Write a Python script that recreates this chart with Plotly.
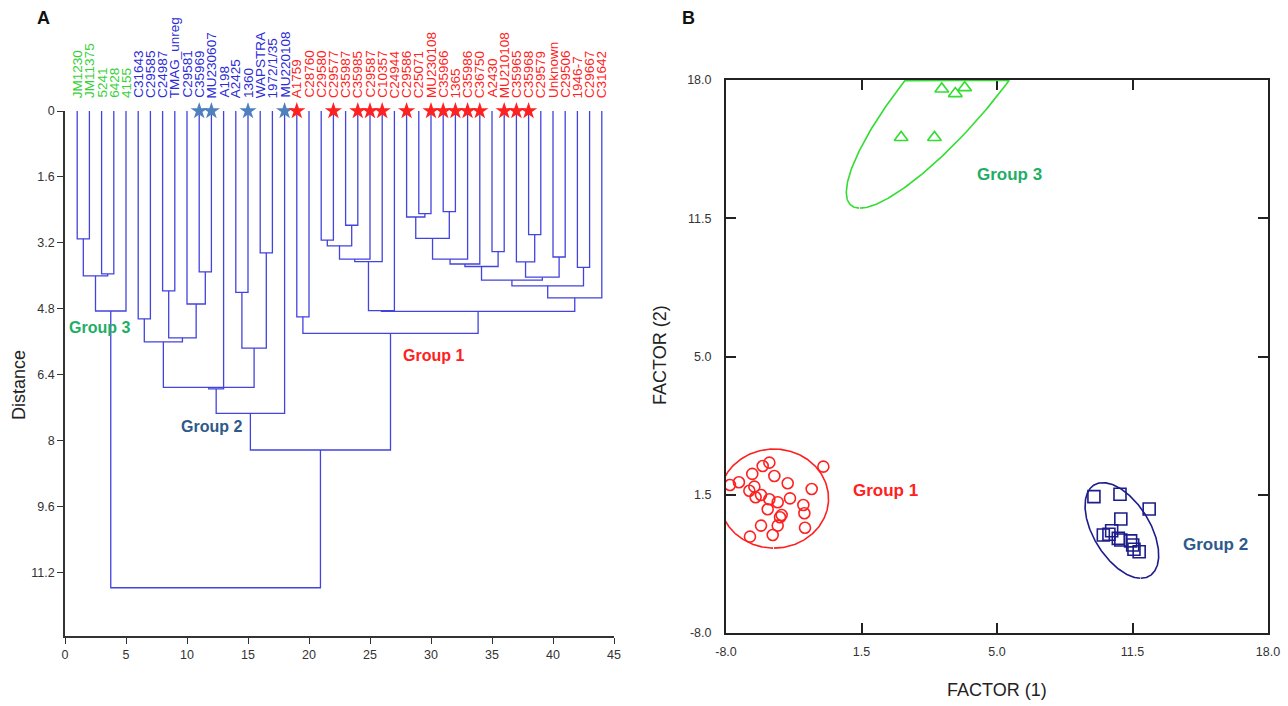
import numpy as np
import plotly.graph_objects as go

# ---------------- DATA ----------------
leaf_labels = ["JM1230", "JM11375", "5241", "6428", "4155",
               "C31643", "C29585", "C24987", "TMAG_unreg", "C29581", "C35969", "MU230607",
               "A198", "A2425", "1360", "WAPSTRA", "1972/1/35", "MU220108",
               "A1759", "C28760", "C29580", "C29577", "C35987", "C35985", "C29587", "C10357",
               "C24944", "C29586", "C25071", "MU230108", "C35966", "1365", "C35986", "C36750",
               "A2430", "MU210108", "C35965", "C35968", "C29579", "Unknown", "C29506",
               "1946-7", "C29667", "C31642"]
leaf_group = [3] * 5 + [2] * 13 + [1] * 26
star_leaves_blue = [11, 12, 15, 18]
star_leaves_red = [19, 22, 24, 25, 26, 28, 30, 31, 32, 33, 34, 36, 37, 38]

# linkage: children are "L<i>" (leaf number, 1-based) or "N<k>" (k-th merge)
merge_left = ["L1", "L3", "N0", "N2",
              "L11", "L16", "L8", "L14", "L10", "L6", "N6", "N9", "N7", "N11", "N13", "N14",
              "L19", "L21", "L23", "N17", "N19", "N20", "N21", "L29", "L28", "L31", "N24",
              "N26", "N27", "L35", "N28", "L38", "L37", "L40", "N32", "N30", "L42", "N35",
              "N37", "N22", "N16", "N15", "N3"]
merge_right = ["L2", "L4", "N1", "L5",
               "L12", "L17", "L9", "L15", "N4", "L7", "N8", "N10", "N5", "N12", "L13", "L18",
               "L20", "L22", "L24", "N18", "L25", "L26", "L27", "L30", "N23", "L32", "N25",
               "L33", "L34", "L36", "N29", "L39", "N31", "L41", "N33", "N34", "L43", "N36",
               "L44", "N38", "N39", "N40", "N41"]
merge_height = [3.10, 3.95, 4.00, 4.85,
                3.90, 3.44, 4.36, 4.40, 4.68, 5.04, 5.50, 5.60, 5.75, 6.70, 6.74, 7.33,
                4.99, 3.13, 2.77, 3.27, 3.59, 3.65, 4.84, 2.49, 2.57, 2.44, 3.09,
                3.59, 3.71, 3.41, 3.77, 3.00, 3.66, 3.54, 4.03, 4.10, 3.79, 4.24,
                4.53, 4.86, 5.39, 8.22, 11.56]

x_ticks_a = [0, 5, 10, 15, 20, 25, 30, 35, 40, 45]
y_ticks_a = [0, 1.6, 3.2, 4.8, 6.4, 8, 9.6, 11.2]
y_ticktext_a = ["0", "1.6", "3.2", "4.8", "6.4", "8", "9.6", "11.2"]

# Panel B scores
g1_x = [-3.33, -5.92, -6.24, -6.74, -5.68, -7.38, -7.81, -5.04, -6.64, -6.88, -3.89, -6.32, -6.58,
        -5.92, -4.93, -5.52, -4.29, -6.00, -4.24, -5.33, -5.41, -6.32, -5.52, -4.21, -5.76, -6.85]
g1_y = [-0.18, 0.01, -0.15, -0.52, -0.62, -0.91, -1.04, -0.96, -1.12, -1.31, -1.23, -1.51, -1.62,
        -1.71, -1.67, -1.85, -1.98, -2.18, -2.37, -2.45, -2.56, -2.95, -2.95, -3.05, -3.39, -3.47]
g2_x = [9.65, 10.90, 12.30, 10.94, 10.10, 10.37, 10.50, 10.82, 10.94, 11.41, 11.51, 11.57, 11.82]
g2_y = [-1.59, -1.48, -2.17, -2.64, -3.39, -3.36, -3.19, -3.55, -3.63, -3.67, -3.86, -4.06, -4.18]
g3_x = [0.40, 2.00, 2.35, 3.00, 3.45]
g3_y = [15.30, 15.30, 17.58, 17.36, 17.64]

# group ellipses: group 1, group 2, group 3
ell_cx = [-5.70, 10.99, 2.85]
ell_cy = [-1.68, -3.18, 17.68]
ell_a = [2.62, 2.52, 7.39]
ell_b = [2.33, 1.35, 1.93]
ell_angle = [0.0, -57.6, 48.8]

b_ticks = [-8, -1.5, 5, 11.5, 18]
b_ticktext = ["-8.0", "1.5", "5.0", "11.5", "18.0"]

# ---------------- STYLE ----------------
FONT = "Liberation Sans, Arial, sans-serif"
W, H = 1288, 706
LINE_BLUE = "#4343de"
LAB_GREEN = "#38d038"
LAB_BLUE = "#2b2bd6"
RED = "#ff2020"
STAR_BLUE = "#4f82bd"
G3_TXT = "#1fae66"
G2_TXT = "#2e5a8a"
NAVY = "#1c1c8c"
TRI_GREEN = "#33dd33"


def px_x(p):
    return p / W


def px_y(p):
    return 1 - p / H


# ---------------- DENDROGRAM ----------------
pos = {}
hgt = {}
for i in range(1, len(leaf_labels) + 1):
    pos["L%d" % i] = float(i)
    hgt["L%d" % i] = 0.0

dx, dy = [], []
for k, (l, r, h) in enumerate(zip(merge_left, merge_right, merge_height)):
    x1, y1 = pos[l], hgt[l]
    x2, y2 = pos[r], hgt[r]
    dx += [x1, x1, x2, x2, None]
    dy += [y1, h, h, y2, None]
    pos["N%d" % k] = (x1 + x2) / 2
    hgt["N%d" % k] = h

fig = go.Figure()
fig.add_trace(go.Scatter(x=dx, y=dy, mode="lines", line=dict(color=LINE_BLUE, width=1.3),
                         xaxis="x", yaxis="y", hoverinfo="skip"))
fig.add_trace(go.Scatter(x=star_leaves_blue, y=[0] * len(star_leaves_blue), mode="markers",
                         marker=dict(symbol="star", size=13, color=STAR_BLUE),
                         cliponaxis=False, xaxis="x", yaxis="y"))
fig.add_trace(go.Scatter(x=star_leaves_red, y=[0] * len(star_leaves_red), mode="markers",
                         marker=dict(symbol="star", size=13, color=RED),
                         cliponaxis=False, xaxis="x", yaxis="y"))

# ---------------- PANEL B ----------------
def ellipse(cx, cy, a, b, ang, ymax):
    t = np.linspace(0, 2 * np.pi, 361)
    th = np.deg2rad(ang)
    ex = cx + a * np.cos(t) * np.cos(th) - b * np.sin(t) * np.sin(th)
    ey = cy + a * np.cos(t) * np.sin(th) + b * np.sin(t) * np.cos(th)
    # start at the lowest point so the part beyond the frame is one arc, then cut it off
    k = int(np.argmin(ey))
    ex, ey = np.roll(ex, -k), np.roll(ey, -k)
    keep = ey <= ymax
    return ex[keep], ey[keep]


ell_colors = [RED, NAVY, TRI_GREEN]
for cx, cy, a, b, ang, col in zip(ell_cx, ell_cy, ell_a, ell_b, ell_angle, ell_colors):
    ex, ey = ellipse(cx, cy, a, b, ang, b_ticks[-1])
    fig.add_trace(go.Scatter(x=ex, y=ey, mode="lines", line=dict(color=col, width=1.6),
                             xaxis="x2", yaxis="y2", hoverinfo="skip"))

fig.add_trace(go.Scatter(x=g1_x, y=g1_y, mode="markers",
                         marker=dict(symbol="circle-open", size=11, color=RED, line=dict(width=1.6)),
                         xaxis="x2", yaxis="y2"))
fig.add_trace(go.Scatter(x=g2_x, y=g2_y, mode="markers",
                         marker=dict(symbol="square-open", size=12, color=NAVY, line=dict(width=1.6)),
                         xaxis="x2", yaxis="y2"))
fig.add_trace(go.Scatter(x=g3_x, y=g3_y, mode="markers",
                         marker=dict(symbol="triangle-up-open", size=12, color=TRI_GREEN, line=dict(width=1.6)),
                         xaxis="x2", yaxis="y2"))

# ---------------- ANNOTATIONS ----------------
ann = []
grp_col = {3: LAB_GREEN, 2: LAB_BLUE, 1: RED}
for i, (lab, g) in enumerate(zip(leaf_labels, leaf_group), start=1):
    ann.append(dict(x=i, y=px_y(100), xref="x", yref="paper", text=lab, textangle=-90,
                    xanchor="center", yanchor="bottom", showarrow=False,
                    font=dict(family=FONT, size=13.5, color=grp_col[g])))


def note(x, y, text, size, color, xref="paper", yref="paper", angle=0):
    return dict(x=x, y=y, xref=xref, yref=yref, text=text, textangle=angle,
                xanchor="center", yanchor="middle", showarrow=False,
                font=dict(family=FONT, size=size, color=color))


ann += [
    note(2.85, 5.24, "<b>Group 3</b>", 16, G3_TXT, "x", "y"),
    note(12.0, 7.66, "<b>Group 2</b>", 16, G2_TXT, "x", "y"),
    note(30.2, 5.92, "<b>Group 1</b>", 16, RED, "x", "y"),
    note(5.6, 13.55, "<b>Group 3</b>", 17, G3_TXT, "x2", "y2"),
    note(-0.35, -1.3, "<b>Group 1</b>", 17, RED, "x2", "y2"),
    note(15.49, -3.86, "<b>Group 2</b>", 17, G2_TXT, "x2", "y2"),
    note(px_x(43), px_y(18), "<b>A</b>", 18, "#111"),
    note(px_x(688), px_y(18), "<b>B</b>", 18, "#111"),
    note(px_x(19), px_y(385), "Distance", 18, "#222", angle=-90),
    note(px_x(997), px_y(690), "FACTOR (1)", 18, "#222"),
    note(px_x(660), px_y(355), "FACTOR (2)", 18, "#222", angle=-90),
]

tickfont = dict(family=FONT, size=12.5, color="#333")
fig.update_layout(
    width=W, height=H, margin=dict(l=0, r=0, t=0, b=0, autoexpand=False),
    paper_bgcolor="white", plot_bgcolor="white", showlegend=False,
    annotations=ann,
    xaxis=dict(domain=[px_x(65), px_x(614)], range=[0, 45], tickvals=x_ticks_a,
               showline=True, linecolor="#333", linewidth=1.5, ticks="outside", ticklen=6,
               tickcolor="#333", showgrid=False, zeroline=False, tickfont=tickfont,
               automargin=False),
    yaxis=dict(domain=[px_y(636), px_y(111)], range=[12.73, 0], tickvals=y_ticks_a,
               ticktext=y_ticktext_a, showline=True, linecolor="#333", linewidth=1.5,
               ticks="outside", ticklen=6, tickcolor="#333", showgrid=False, zeroline=False,
               tickfont=tickfont, automargin=False),
    xaxis2=dict(domain=[px_x(726), px_x(1268)], range=[-8, 18], tickvals=b_ticks,
                ticktext=b_ticktext, anchor="y2", showline=True, mirror="allticks",
                linecolor="#222", linewidth=2, ticks="inside", ticklen=10, tickwidth=2,
                tickcolor="#222", showgrid=False, zeroline=False, tickfont=tickfont,
                ticklabelstandoff=6, layer="below traces", automargin=False),
    yaxis2=dict(domain=[px_y(633), px_y(80)], range=[-8, 18], tickvals=b_ticks,
                ticktext=b_ticktext, anchor="x2", showline=True, mirror="allticks",
                linecolor="#222", linewidth=2, ticks="inside", ticklen=10, tickwidth=2,
                tickcolor="#222", showgrid=False, zeroline=False, tickfont=tickfont,
                ticklabelstandoff=10, layer="below traces", automargin=False),
)

fig.write_html("out.html", config={"displayModeBar": False},
               post_script="document.body.style.margin='0';")
